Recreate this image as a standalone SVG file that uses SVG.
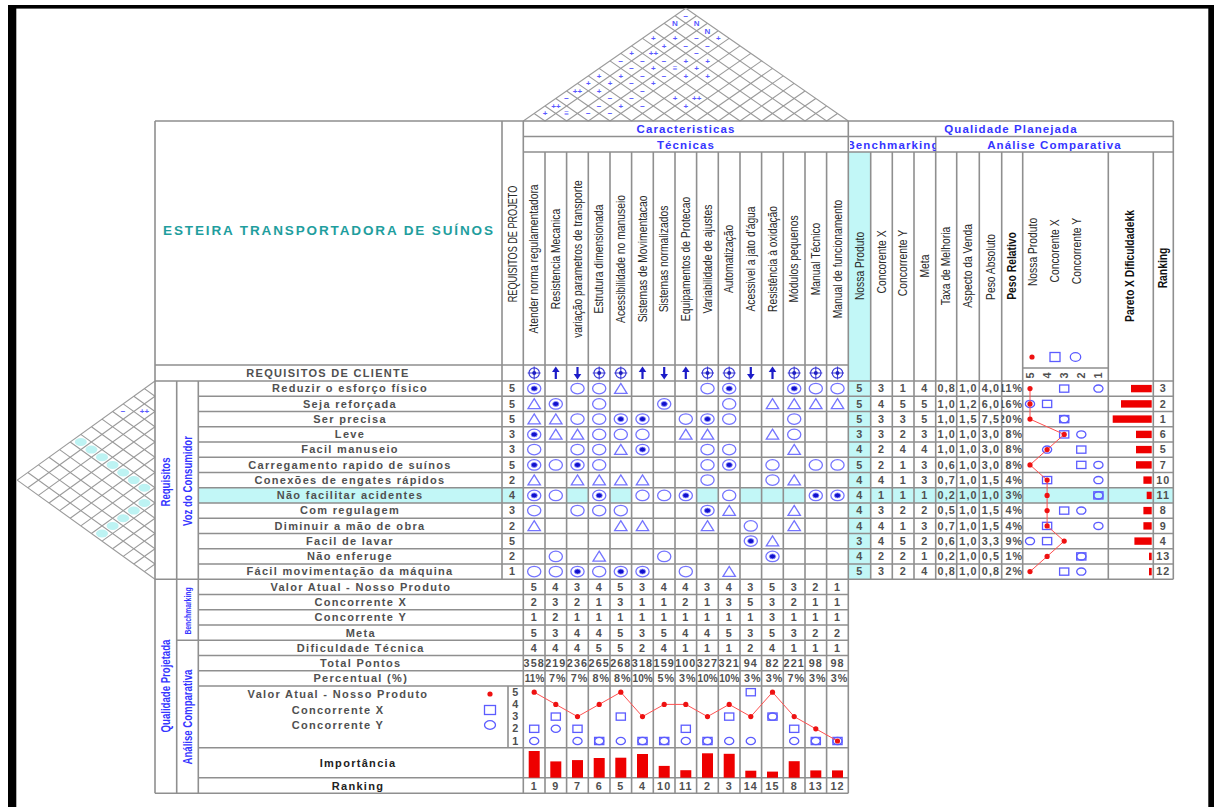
<svg xmlns="http://www.w3.org/2000/svg" width="1214" height="807" viewBox="0 0 1214 807">
<style>
text{font-family:"Liberation Sans",Arial,sans-serif}
.g{stroke:#8f8f8f;stroke-width:1.6;fill:none}
.rg{stroke:#9b9b9b;stroke-width:1.1;fill:none}
.d{font-size:10.8px;font-weight:bold;fill:#505050;letter-spacing:1.1px;text-anchor:middle}
.de{font-size:10.8px;font-weight:bold;fill:#505050;letter-spacing:0.9px;text-anchor:end}
.p3{font-size:10px;letter-spacing:0px}
.n{font-size:11px;font-weight:bold;fill:#505050;letter-spacing:1.3px;text-anchor:middle}
.h{font-size:12px;fill:#2a2a2a;text-anchor:middle}
.hb{font-size:12px;font-weight:bold;fill:#111;text-anchor:middle}
.bl{font-size:11.5px;font-weight:bold;fill:#3535ff;letter-spacing:1.1px;text-anchor:middle}
.bv{font-size:12px;font-weight:bold;fill:#3535ff;text-anchor:middle}
.rf{font-size:8px;font-weight:bold;fill:#5a5aff;text-anchor:middle}
.sym{fill:#fff;stroke:#7474ff;stroke-width:1.3}
.cy{fill:#c2f7f7}
.bar{fill:#ee0000}
.rl{fill:none;stroke:#ff5050;stroke-width:1}
</style>
<defs>
<g id="s9"><ellipse rx="6.6" ry="5.3" class="sym"/><ellipse rx="3.1" ry="2.5" fill="#1212cc" stroke="#8a8aff" stroke-width="0.8"/></g>
<g id="s3"><ellipse rx="6.6" ry="5.3" class="sym"/></g>
<g id="s1"><path d="M0,-5.2L6.2,4.8H-6.2Z" class="sym"/></g>
<g id="dt"><circle r="5.2" fill="#fff" stroke="#3b3bd6" stroke-width="1.2"/><path d="M-6.5,0H6.5M0,-6.5V6.5" stroke="#3b3bd6" stroke-width="1.1"/><circle r="2" fill="#2020c0"/></g>
<g id="du"><path d="M0,6V-2" stroke="#1c1cc8" stroke-width="2.2"/><path d="M-3.8,-1L0,-6.5L3.8,-1Z" fill="#1c1cc8"/></g>
<g id="dd"><path d="M0,-6V2" stroke="#1c1cc8" stroke-width="2.2"/><path d="M-3.8,1L0,6.5L3.8,1Z" fill="#1c1cc8"/></g>
<circle id="cd" r="2.6" fill="#ee1111"/>
<rect id="cs" x="-4.6" y="-3.6" width="9.2" height="7.2" fill="none" stroke="#5c5cff" stroke-width="1.3"/>
<ellipse id="cc" rx="4.6" ry="3.6" fill="none" stroke="#5c5cff" stroke-width="1.3"/>
<clipPath id="cb"><rect x="850" y="136.5" width="85.7" height="15.5"/></clipPath>
<clipPath id="k1"><rect x="935.7" y="381" width="21" height="199"/></clipPath>
<clipPath id="k2"><rect x="956.7" y="381" width="22.6" height="199"/></clipPath>
<clipPath id="k3"><rect x="979.3" y="381" width="22.4" height="199"/></clipPath>
<clipPath id="k4"><rect x="1001.7" y="381" width="21" height="199"/></clipPath>
<clipPath id="t0"><rect x="523.3" y="655" width="21.7" height="32"/></clipPath>
<clipPath id="t1"><rect x="545" y="655" width="21.6" height="32"/></clipPath>
<clipPath id="t2"><rect x="566.6" y="655" width="21.7" height="32"/></clipPath>
<clipPath id="t3"><rect x="588.3" y="655" width="21.7" height="32"/></clipPath>
<clipPath id="t4"><rect x="610" y="655" width="21.6" height="32"/></clipPath>
<clipPath id="t5"><rect x="631.6" y="655" width="21.7" height="32"/></clipPath>
<clipPath id="t6"><rect x="653.3" y="655" width="21.7" height="32"/></clipPath>
<clipPath id="t7"><rect x="675" y="655" width="21.6" height="32"/></clipPath>
<clipPath id="t8"><rect x="696.6" y="655" width="21.7" height="32"/></clipPath>
<clipPath id="t9"><rect x="718.3" y="655" width="21.7" height="32"/></clipPath>
<clipPath id="t10"><rect x="740" y="655" width="21.6" height="32"/></clipPath>
<clipPath id="t11"><rect x="761.6" y="655" width="21.7" height="32"/></clipPath>
<clipPath id="t12"><rect x="783.3" y="655" width="21.7" height="32"/></clipPath>
<clipPath id="t13"><rect x="805" y="655" width="21.6" height="32"/></clipPath>
<clipPath id="t14"><rect x="826.6" y="655" width="21.7" height="32"/></clipPath>
</defs>
<rect width="1214" height="807" fill="#fff"/>
<g id="frame" fill="#000">
<rect x="8" y="5" width="1206" height="3.6"/>
<rect x="8" y="5" width="8.3" height="802"/>
<rect x="1208.3" y="5" width="5.7" height="802"/>
</g>
<g id="fills">
<rect class="cy" x="848.3" y="152" width="22.4" height="427.25"/>
<rect class="cy" x="198.3" y="487.75" width="975" height="15.25"/>
<g fill="#fff">
<rect x="523.3" y="487.75" width="21.7" height="15.25"/><rect x="545" y="487.75" width="21.6" height="15.25"/><rect x="588.3" y="487.75" width="21.7" height="15.25"/><rect x="631.6" y="487.75" width="21.7" height="15.25"/><rect x="653.3" y="487.75" width="21.7" height="15.25"/><rect x="675" y="487.75" width="21.6" height="15.25"/><rect x="718.3" y="487.75" width="21.7" height="15.25"/><rect x="805" y="487.75" width="21.6" height="15.25"/><rect x="826.6" y="487.75" width="21.7" height="15.25"/>
</g>
</g>
<g id="roof">
<path class="rg" d="M523.3,121L685.8,8.3M545,121L696.6,15.8M566.6,121L707.5,23.3M588.3,121L718.3,30.8M610,121L729.1,38.4M631.6,121L740,45.9M653.3,121L750.8,53.4M675,121L761.6,60.9M696.6,121L772.5,68.4M718.3,121L783.3,75.9M740,121L794.1,83.4M761.6,121L805,91M783.3,121L815.8,98.5M805,121L826.6,106M826.6,121L837.5,113.5M545,121L534.1,113.5M566.6,121L545,106M588.3,121L555.8,98.5M610,121L566.6,91M631.6,121L577.5,83.4M653.3,121L588.3,75.9M675,121L599.1,68.4M696.6,121L610,60.9M718.3,121L620.8,53.4M740,121L631.6,45.9M761.6,121L642.5,38.4M783.3,121L653.3,30.8M805,121L664.1,23.3M826.6,121L675,15.8M848.3,121L685.8,8.3"/>
<g class="rf">
<text x="685.9" y="18.6">−</text>
<text x="675" y="26.1">N</text><text x="696.7" y="26.1">N</text>
<text x="707.5" y="33.6">N</text>
<text x="653.4" y="41.2">+</text><text x="675" y="41.2">+</text><text x="696.7" y="41.2">−</text><text x="718.4" y="41.2">+</text>
<text x="664.2" y="48.7">+</text><text x="685.9" y="48.7">−</text><text x="707.5" y="48.7">−</text>
<text x="631.7" y="56.2">+</text><text x="653.4" y="56.2">++</text><text x="696.7" y="56.2">−</text>
<text x="620.9" y="63.7">−</text><text x="642.5" y="63.7">−</text><text x="664.2" y="63.7">−</text><text x="685.9" y="63.7">+</text><text x="707.5" y="63.7">+</text>
<text x="631.7" y="71.2">−</text><text x="653.4" y="71.2">+</text><text x="675" y="71.2">≡</text><text x="696.7" y="71.2">+</text>
<text x="599.2" y="78.7">+</text><text x="620.9" y="78.7">+</text><text x="642.5" y="78.7">−</text><text x="664.2" y="78.7">−</text><text x="685.9" y="78.7">+</text><text x="707.5" y="78.7">+</text>
<text x="588.4" y="86.2">+</text><text x="610" y="86.2">+</text><text x="631.7" y="86.2">−</text><text x="653.4" y="86.2">+</text>
<text x="577.5" y="93.8">++</text><text x="599.2" y="93.8">+</text><text x="642.5" y="93.8">−</text>
<text x="566.7" y="101.3">−</text><text x="610" y="101.3">−</text><text x="631.7" y="101.3">−</text><text x="675" y="101.3">+</text><text x="696.7" y="101.3">++</text>
<text x="555.9" y="108.8">++</text><text x="599.2" y="108.8">−</text><text x="620.9" y="108.8">+</text><text x="642.5" y="108.8">−</text><text x="685.9" y="108.8">+</text>
<text x="545" y="116.3">+</text><text x="566.7" y="116.3">≡</text><text x="588.4" y="116.3">−</text><text x="610" y="116.3">−</text>
</g>
</g>
<g id="roof-left">
<g fill="#bdf3f3">
<ellipse cx="80.8" cy="442" rx="6" ry="4"/><ellipse cx="91.4" cy="449.6" rx="6" ry="4"/><ellipse cx="102" cy="457.2" rx="6" ry="4"/><ellipse cx="112.6" cy="464.9" rx="6" ry="4"/><ellipse cx="123.2" cy="472.5" rx="6" ry="4"/><ellipse cx="133.8" cy="480.1" rx="6" ry="4"/><ellipse cx="144.4" cy="487.75" rx="6" ry="4"/>
<ellipse cx="144.4" cy="503" rx="6" ry="4"/><ellipse cx="133.8" cy="510.6" rx="6" ry="4"/><ellipse cx="123.2" cy="518.25" rx="6" ry="4"/><ellipse cx="112.6" cy="525.9" rx="6" ry="4"/><ellipse cx="102" cy="533.5" rx="6" ry="4"/>
</g>
<path class="rg" d="M155,381L17.2,480.1M155,396.25L27.8,487.75M155,411.5L38.4,495.4M155,426.75L49,503M155,442L59.6,510.6M155,457.25L70.2,518.25M155,472.5L80.8,525.9M155,487.75L91.4,533.5M155,503L102,541.1M155,518.25L112.6,548.75M155,533.5L123.2,556.4M155,548.75L133.8,564M155,564L144.4,571.6M155,396.25L144.4,388.6M155,411.5L133.8,396.25M155,426.75L123.2,403.9M155,442L112.6,411.5M155,457.25L102,419.1M155,472.5L91.4,426.75M155,487.75L80.8,434.4M155,503L70.2,442M155,518.25L59.6,449.6M155,533.5L49,457.25M155,548.75L38.4,464.9M155,564L27.8,472.5M155,579.25L17.2,480.1"/>
<text class="rf" x="144.4" y="414.3">++</text>
<text class="rf" x="123.2" y="414.3">−</text>
</g>
<g id="grid">
<path class="g" d="M155,121H1173.3M523.3,136.5H1173.3M523.3,152H1173.3M155,365H848.3M1022.7,368H1108.3M155,381H1173.3M198.3,396.25H1173.3M198.3,411.5H1173.3M198.3,426.75H1173.3M198.3,442H1173.3M198.3,457.25H1173.3M198.3,472.5H1173.3M198.3,487.75H1173.3M198.3,503H1173.3M198.3,518.25H1173.3M198.3,533.5H1173.3M198.3,548.75H1173.3M198.3,564H1173.3M155,579.25H1173.3M198.3,594.5H848.3M198.3,609.75H848.3M198.3,625H848.3M176.7,640.25H848.3M198.3,655.5H848.3M198.3,670.75H848.3M198.3,686H848.3M198.3,747.7H848.3M198.3,777.7H848.3M155,793.3H848.3
M155,121V793.3M176.7,381V793.3M198.3,381V793.3M502,121V579.25M508,686V747.7M523.3,121V793.3M545,152V793.3M566.6,152V793.3M588.3,152V793.3M610,152V793.3M631.6,152V793.3M653.3,152V793.3M675,152V793.3M696.6,152V793.3M718.3,152V793.3M740,152V793.3M761.6,152V793.3M783.3,152V793.3M805,152V793.3M826.6,152V793.3M848.3,121V793.3M870.7,152V579.25M892.3,152V579.25M914,152V579.25M935.7,136.5V579.25M956.7,152V579.25M979.3,152V579.25M1001.7,152V579.25M1022.7,152V579.25M1108.3,152V579.25M1153.3,152V579.25M1173.3,121V579.25"/>
</g>
<g id="headers">
<text x="328" y="235" font-size="13.5" font-weight="bold" fill="#1f9e9e" text-anchor="middle" textLength="330" lengthAdjust="spacing">ESTEIRA TRANSPORTADORA DE SUÍNOS</text>
<text class="bl" x="686" y="133">Caracteristicas</text>
<text class="bl" x="686" y="148.5">Técnicas</text>
<text class="bl" x="1011" y="133">Qualidade Planejada</text>
<text class="bl" x="893" y="148.5" clip-path="url(#cb)">Benchmarking</text>
<text class="bl" x="1054.5" y="148.5">Análise Comparativa</text>
<text class="h" font-size="13" transform="translate(517.2,244) rotate(-90) scale(0.76,1)">REQUISITOS DE PROJETO</text>
<g class="h">
<text transform="translate(538.2,259) rotate(-90) scale(0.86,1)">Atender norma regulamentadora</text>
<text transform="translate(559.8,259) rotate(-90) scale(0.86,1)">Resistencia Mecanica</text>
<text transform="translate(581.5,259) rotate(-90) scale(0.86,1)">variação parametros de transporte</text>
<text transform="translate(603.2,259) rotate(-90) scale(0.86,1)">Estrutura dimensionada</text>
<text transform="translate(624.8,259) rotate(-90) scale(0.86,1)">Acessibilidade no manuseio</text>
<text transform="translate(646.5,259) rotate(-90) scale(0.86,1)">Sistemas de Movimentacao</text>
<text transform="translate(668.2,259) rotate(-90) scale(0.86,1)">Sistemas normalizados</text>
<text transform="translate(689.8,259) rotate(-90) scale(0.86,1)">Equipamentos de Protecao</text>
<text transform="translate(711.5,259) rotate(-90) scale(0.86,1)">Variabilidade de ajustes</text>
<text transform="translate(733.2,259) rotate(-90) scale(0.86,1)">Automatização</text>
<text transform="translate(754.8,259) rotate(-90) scale(0.86,1)">Acessivel a jato d'água</text>
<text transform="translate(776.5,259) rotate(-90) scale(0.86,1)">Resistência à oxidação</text>
<text transform="translate(798.2,259) rotate(-90) scale(0.86,1)">Módulos pequenos</text>
<text transform="translate(819.8,259) rotate(-90) scale(0.86,1)">Manual Técnico</text>
<text transform="translate(841.5,259) rotate(-90) scale(0.86,1)">Manual de funcionamento</text>
<text transform="translate(863.8,266) rotate(-90) scale(0.86,1)">Nossa Produto</text>
<text transform="translate(885.5,262) rotate(-90) scale(0.86,1)">Concorente X</text>
<text transform="translate(907.2,263) rotate(-90) scale(0.86,1)">Concorrente Y</text>
<text transform="translate(928.8,266) rotate(-90) scale(0.86,1)">Meta</text>
<text transform="translate(950.2,266) rotate(-90) scale(0.86,1)">Taxa de Melhoria</text>
<text transform="translate(972,266) rotate(-90) scale(0.86,1)">Aspecto da Venda</text>
<text transform="translate(994.5,267) rotate(-90) scale(0.86,1)">Peso Absoluto</text>
<text transform="translate(1036.5,252) rotate(-90) scale(0.86,1)">Nossa Produto</text>
<text transform="translate(1059,251) rotate(-90) scale(0.86,1)">Concorente X</text>
<text transform="translate(1080.7,251) rotate(-90) scale(0.86,1)">Concorrente Y</text>
</g>
<g class="hb">
<text transform="translate(1016.2,266) rotate(-90) scale(0.86,1)">Peso Relativo</text>
<text transform="translate(1133.5,266) rotate(-90) scale(0.86,1)">Pareto X Dificuldadekk</text>
<text transform="translate(1166.5,268) rotate(-90) scale(0.86,1)">Ranking</text>
</g>
<use href="#cd" x="1032" y="357"/><rect x="1050" y="352.5" width="10" height="9" fill="none" stroke="#5c5cff" stroke-width="1.3"/><ellipse cx="1075.5" cy="357" rx="5.2" ry="4.3" fill="none" stroke="#5c5cff" stroke-width="1.3"/>
<g class="d" font-size="9.5px">
<text transform="translate(1033.5,375) rotate(-90)">5</text>
<text transform="translate(1050.6,375) rotate(-90)">4</text>
<text transform="translate(1067.7,375) rotate(-90)">3</text>
<text transform="translate(1084.8,375) rotate(-90)">2</text>
<text transform="translate(1101.9,375) rotate(-90)">1</text>
</g>
<text class="n" x="328" y="376.8" letter-spacing="1.2">REQUISITOS DE CLIENTE</text>
<g class="bv">
<text transform="translate(170.3,482) rotate(-90) scale(0.8,1)">Requisitos</text>
<text transform="translate(191.8,481) rotate(-90) scale(0.8,1)">Voz do Consumidor</text>
<text transform="translate(170.3,686) rotate(-90) scale(0.8,1)">Qualidade Projetada</text>
<text font-size="8.5" transform="translate(190.5,611) rotate(-90) scale(0.8,1)">Benchmarking</text>
<text transform="translate(191.8,717) rotate(-90) scale(0.8,1)">Análise Comparativa</text>
</g>
</g>
<g id="directions">
<use href="#dt" x="534.2" y="373"/><use href="#du" x="555.8" y="373"/><use href="#dd" x="577.5" y="373"/><use href="#dt" x="599.2" y="373"/><use href="#dt" x="620.8" y="373"/><use href="#du" x="642.5" y="373"/><use href="#dd" x="664.2" y="373"/><use href="#du" x="685.8" y="373"/><use href="#dt" x="707.5" y="373"/><use href="#dt" x="729.2" y="373"/><use href="#dd" x="750.8" y="373"/><use href="#du" x="772.5" y="373"/><use href="#dt" x="794.2" y="373"/><use href="#dt" x="815.8" y="373"/><use href="#dt" x="837.5" y="373"/>
</g>
<g id="requirements" class="n">
<text x="350" y="392.4">Reduzir o esforço físico</text>
<text x="350" y="407.7">Seja reforçada</text>
<text x="350" y="422.9">Ser precisa</text>
<text x="350" y="438.2">Leve</text>
<text x="350" y="453.4">Facil manuseio</text>
<text x="350" y="468.7">Carregamento rapido de suínos</text>
<text x="350" y="483.9">Conexões de engates rápidos</text>
<text x="350" y="499.2">Não facilitar acidentes</text>
<text x="350" y="514.4">Com regulagem</text>
<text x="350" y="529.7">Diminuir a mão de obra</text>
<text x="350" y="544.9">Facil de lavar</text>
<text x="350" y="560.2">Não enferuge</text>
<text x="350" y="575.4">Fácil movimentação da máquina</text>
</g>
<g id="matrix">
<use href="#s9" x="534.2" y="388.6"/><use href="#s3" x="577.5" y="388.6"/><use href="#s3" x="599.2" y="388.6"/><use href="#s1" x="620.8" y="388.6"/><use href="#s3" x="707.5" y="388.6"/><use href="#s9" x="729.2" y="388.6"/><use href="#s9" x="794.2" y="388.6"/><use href="#s3" x="815.8" y="388.6"/><use href="#s3" x="837.5" y="388.6"/>
<use href="#s1" x="534.2" y="403.9"/><use href="#s9" x="555.8" y="403.9"/><use href="#s3" x="599.2" y="403.9"/><use href="#s9" x="664.2" y="403.9"/><use href="#s3" x="729.2" y="403.9"/><use href="#s1" x="772.5" y="403.9"/><use href="#s1" x="794.2" y="403.9"/><use href="#s1" x="815.8" y="403.9"/><use href="#s1" x="837.5" y="403.9"/>
<use href="#s1" x="534.2" y="419.1"/><use href="#s1" x="555.8" y="419.1"/><use href="#s3" x="577.5" y="419.1"/><use href="#s3" x="599.2" y="419.1"/><use href="#s9" x="620.8" y="419.1"/><use href="#s9" x="642.5" y="419.1"/><use href="#s3" x="685.8" y="419.1"/><use href="#s9" x="707.5" y="419.1"/><use href="#s3" x="729.2" y="419.1"/><use href="#s3" x="794.2" y="419.1"/>
<use href="#s9" x="534.2" y="434.4"/><use href="#s1" x="555.8" y="434.4"/><use href="#s1" x="577.5" y="434.4"/><use href="#s3" x="599.2" y="434.4"/><use href="#s3" x="620.8" y="434.4"/><use href="#s3" x="642.5" y="434.4"/><use href="#s1" x="685.8" y="434.4"/><use href="#s1" x="707.5" y="434.4"/><use href="#s1" x="772.5" y="434.4"/><use href="#s3" x="794.2" y="434.4"/>
<use href="#s3" x="534.2" y="449.6"/><use href="#s3" x="577.5" y="449.6"/><use href="#s3" x="599.2" y="449.6"/><use href="#s1" x="620.8" y="449.6"/><use href="#s9" x="642.5" y="449.6"/><use href="#s3" x="707.5" y="449.6"/><use href="#s3" x="729.2" y="449.6"/><use href="#s1" x="794.2" y="449.6"/>
<use href="#s9" x="534.2" y="464.9"/><use href="#s3" x="555.8" y="464.9"/><use href="#s9" x="577.5" y="464.9"/><use href="#s3" x="599.2" y="464.9"/><use href="#s3" x="707.5" y="464.9"/><use href="#s9" x="729.2" y="464.9"/><use href="#s3" x="772.5" y="464.9"/><use href="#s3" x="815.8" y="464.9"/><use href="#s3" x="837.5" y="464.9"/>
<use href="#s1" x="534.2" y="480.1"/><use href="#s1" x="577.5" y="480.1"/><use href="#s1" x="599.2" y="480.1"/><use href="#s1" x="620.8" y="480.1"/><use href="#s1" x="642.5" y="480.1"/><use href="#s3" x="707.5" y="480.1"/><use href="#s3" x="772.5" y="480.1"/><use href="#s1" x="794.2" y="480.1"/>
<use href="#s9" x="534.2" y="495.4"/><use href="#s3" x="555.8" y="495.4"/><use href="#s9" x="599.2" y="495.4"/><use href="#s3" x="642.5" y="495.4"/><use href="#s3" x="664.2" y="495.4"/><use href="#s9" x="685.8" y="495.4"/><use href="#s3" x="729.2" y="495.4"/><use href="#s9" x="815.8" y="495.4"/><use href="#s9" x="837.5" y="495.4"/>
<use href="#s3" x="534.2" y="510.6"/><use href="#s3" x="577.5" y="510.6"/><use href="#s3" x="599.2" y="510.6"/><use href="#s3" x="620.8" y="510.6"/><use href="#s9" x="707.5" y="510.6"/><use href="#s1" x="729.2" y="510.6"/><use href="#s1" x="794.2" y="510.6"/>
<use href="#s1" x="534.2" y="525.9"/><use href="#s1" x="620.8" y="525.9"/><use href="#s1" x="642.5" y="525.9"/><use href="#s1" x="707.5" y="525.9"/><use href="#s3" x="750.8" y="525.9"/><use href="#s1" x="794.2" y="525.9"/>
<use href="#s9" x="750.8" y="541.1"/><use href="#s1" x="772.5" y="541.1"/>
<use href="#s3" x="555.8" y="556.4"/><use href="#s1" x="599.2" y="556.4"/><use href="#s3" x="664.2" y="556.4"/><use href="#s9" x="772.5" y="556.4"/>
<use href="#s3" x="534.2" y="571.6"/><use href="#s3" x="555.8" y="571.6"/><use href="#s9" x="577.5" y="571.6"/><use href="#s3" x="599.2" y="571.6"/><use href="#s9" x="620.8" y="571.6"/><use href="#s9" x="642.5" y="571.6"/><use href="#s3" x="685.8" y="571.6"/><use href="#s1" x="729.2" y="571.6"/>
</g>
<g id="right-values" class="d">
<text y="392.4"><tspan x="512.5">5</tspan><tspan x="859.8">5</tspan><tspan x="881.5">3</tspan><tspan x="903.2">1</tspan><tspan x="924.8">4</tspan><tspan x="1163.3">3</tspan></text>
<text y="407.7"><tspan x="512.5">5</tspan><tspan x="859.8">5</tspan><tspan x="881.5">4</tspan><tspan x="903.2">5</tspan><tspan x="924.8">5</tspan><tspan x="1163.3">2</tspan></text>
<text y="422.9"><tspan x="512.5">5</tspan><tspan x="859.8">5</tspan><tspan x="881.5">3</tspan><tspan x="903.2">3</tspan><tspan x="924.8">5</tspan><tspan x="1163.3">1</tspan></text>
<text y="438.2"><tspan x="512.5">3</tspan><tspan x="859.8">3</tspan><tspan x="881.5">3</tspan><tspan x="903.2">2</tspan><tspan x="924.8">3</tspan><tspan x="1163.3">6</tspan></text>
<text y="453.4"><tspan x="512.5">3</tspan><tspan x="859.8">4</tspan><tspan x="881.5">2</tspan><tspan x="903.2">4</tspan><tspan x="924.8">4</tspan><tspan x="1163.3">5</tspan></text>
<text y="468.7"><tspan x="512.5">5</tspan><tspan x="859.8">5</tspan><tspan x="881.5">2</tspan><tspan x="903.2">1</tspan><tspan x="924.8">3</tspan><tspan x="1163.3">7</tspan></text>
<text y="483.9"><tspan x="512.5">2</tspan><tspan x="859.8">4</tspan><tspan x="881.5">4</tspan><tspan x="903.2">1</tspan><tspan x="924.8">3</tspan><tspan x="1163.3">10</tspan></text>
<text y="499.2"><tspan x="512.5">4</tspan><tspan x="859.8">4</tspan><tspan x="881.5">1</tspan><tspan x="903.2">1</tspan><tspan x="924.8">1</tspan><tspan x="1163.3">11</tspan></text>
<text y="514.4"><tspan x="512.5">3</tspan><tspan x="859.8">4</tspan><tspan x="881.5">3</tspan><tspan x="903.2">2</tspan><tspan x="924.8">2</tspan><tspan x="1163.3">8</tspan></text>
<text y="529.7"><tspan x="512.5">2</tspan><tspan x="859.8">4</tspan><tspan x="881.5">4</tspan><tspan x="903.2">1</tspan><tspan x="924.8">3</tspan><tspan x="1163.3">9</tspan></text>
<text y="544.9"><tspan x="512.5">5</tspan><tspan x="859.8">3</tspan><tspan x="881.5">4</tspan><tspan x="903.2">5</tspan><tspan x="924.8">2</tspan><tspan x="1163.3">4</tspan></text>
<text y="560.2"><tspan x="512.5">2</tspan><tspan x="859.8">4</tspan><tspan x="881.5">2</tspan><tspan x="903.2">2</tspan><tspan x="924.8">1</tspan><tspan x="1163.3">13</tspan></text>
<text y="575.4"><tspan x="512.5">1</tspan><tspan x="859.8">5</tspan><tspan x="881.5">3</tspan><tspan x="903.2">2</tspan><tspan x="924.8">4</tspan><tspan x="1163.3">12</tspan></text>
<text clip-path="url(#k1)"><tspan x="946.7" y="392.4">0,8</tspan><tspan x="946.7" y="407.7">1,0</tspan><tspan x="946.7" y="422.9">1,0</tspan><tspan x="946.7" y="438.2">1,0</tspan><tspan x="946.7" y="453.4">1,0</tspan><tspan x="946.7" y="468.7">0,6</tspan><tspan x="946.7" y="483.9">0,7</tspan><tspan x="946.7" y="499.2">0,2</tspan><tspan x="946.7" y="514.4">0,5</tspan><tspan x="946.7" y="529.7">0,7</tspan><tspan x="946.7" y="544.9">0,6</tspan><tspan x="946.7" y="560.2">0,2</tspan><tspan x="946.7" y="575.4">0,8</tspan></text>
<text clip-path="url(#k2)"><tspan x="968.5" y="392.4">1,0</tspan><tspan x="968.5" y="407.7">1,2</tspan><tspan x="968.5" y="422.9">1,5</tspan><tspan x="968.5" y="438.2">1,0</tspan><tspan x="968.5" y="453.4">1,0</tspan><tspan x="968.5" y="468.7">1,0</tspan><tspan x="968.5" y="483.9">1,0</tspan><tspan x="968.5" y="499.2">1,0</tspan><tspan x="968.5" y="514.4">1,0</tspan><tspan x="968.5" y="529.7">1,0</tspan><tspan x="968.5" y="544.9">1,0</tspan><tspan x="968.5" y="560.2">1,0</tspan><tspan x="968.5" y="575.4">1,0</tspan></text>
<text clip-path="url(#k3)"><tspan x="991" y="392.4">4,0</tspan><tspan x="991" y="407.7">6,0</tspan><tspan x="991" y="422.9">7,5</tspan><tspan x="991" y="438.2">3,0</tspan><tspan x="991" y="453.4">3,0</tspan><tspan x="991" y="468.7">3,0</tspan><tspan x="991" y="483.9">1,5</tspan><tspan x="991" y="499.2">1,0</tspan><tspan x="991" y="514.4">1,5</tspan><tspan x="991" y="529.7">1,5</tspan><tspan x="991" y="544.9">3,3</tspan><tspan x="991" y="560.2">0,5</tspan><tspan x="991" y="575.4">0,8</tspan></text>
<text class="de" clip-path="url(#k4)"><tspan x="1023" y="392.4">11%</tspan><tspan x="1023" y="407.7">16%</tspan><tspan x="1023" y="422.9">20%</tspan><tspan x="1023" y="438.2">8%</tspan><tspan x="1023" y="453.4">8%</tspan><tspan x="1023" y="468.7">8%</tspan><tspan x="1023" y="483.9">4%</tspan><tspan x="1023" y="499.2">3%</tspan><tspan x="1023" y="514.4">4%</tspan><tspan x="1023" y="529.7">4%</tspan><tspan x="1023" y="544.9">9%</tspan><tspan x="1023" y="560.2">1%</tspan><tspan x="1023" y="575.4">2%</tspan></text>
</g>
<g id="right-chart">
<use href="#cs" x="1064.2" y="388.6"/><use href="#cc" x="1098.4" y="388.6"/>
<use href="#cs" x="1047.1" y="403.9"/><use href="#cc" x="1030" y="403.9"/>
<use href="#cs" x="1064.2" y="419.1"/><use href="#cc" x="1064.2" y="419.1"/>
<use href="#cs" x="1064.2" y="434.4"/><use href="#cc" x="1081.3" y="434.4"/>
<use href="#cs" x="1081.3" y="449.6"/><use href="#cc" x="1047.1" y="449.6"/>
<use href="#cs" x="1081.3" y="464.9"/><use href="#cc" x="1098.4" y="464.9"/>
<use href="#cs" x="1047.1" y="480.1"/><use href="#cc" x="1098.4" y="480.1"/>
<use href="#cs" x="1098.4" y="495.4"/><use href="#cc" x="1098.4" y="495.4"/>
<use href="#cs" x="1064.2" y="510.6"/><use href="#cc" x="1081.3" y="510.6"/>
<use href="#cs" x="1047.1" y="525.9"/><use href="#cc" x="1098.4" y="525.9"/>
<use href="#cs" x="1047.1" y="541.1"/><use href="#cc" x="1030" y="541.1"/>
<use href="#cs" x="1081.3" y="556.4"/><use href="#cc" x="1081.3" y="556.4"/>
<use href="#cs" x="1064.2" y="571.6"/><use href="#cc" x="1081.3" y="571.6"/>
<polyline class="rl" points="1030,388.6 1030,403.9 1030,419.1 1064.2,434.4 1047.1,449.6 1030,464.9 1047.1,480.1 1047.1,495.4 1047.1,510.6 1047.1,525.9 1064.2,541.1 1047.1,556.4 1030,571.6"/>
<use href="#cd" x="1030" y="388.6"/><use href="#cd" x="1030" y="403.9"/><use href="#cd" x="1030" y="419.1"/><use href="#cd" x="1064.2" y="434.4"/><use href="#cd" x="1047.1" y="449.6"/><use href="#cd" x="1030" y="464.9"/><use href="#cd" x="1047.1" y="480.1"/><use href="#cd" x="1047.1" y="495.4"/><use href="#cd" x="1047.1" y="510.6"/><use href="#cd" x="1047.1" y="525.9"/><use href="#cd" x="1064.2" y="541.1"/><use href="#cd" x="1047.1" y="556.4"/><use href="#cd" x="1030" y="571.6"/>
</g>
<g id="pareto" class="bar">
<rect x="1131" y="384.9" width="20.7" height="7.4"/><rect x="1121" y="400.2" width="30.7" height="7.4"/><rect x="1112.7" y="415.4" width="39" height="7.4"/><rect x="1136" y="430.7" width="15.7" height="7.4"/><rect x="1136" y="445.9" width="15.7" height="7.4"/><rect x="1136" y="461.2" width="15.7" height="7.4"/><rect x="1143.4" y="476.4" width="8.3" height="7.4"/><rect x="1146.7" y="491.7" width="5" height="7.4"/><rect x="1143.4" y="506.9" width="8.3" height="7.4"/><rect x="1143.4" y="522.2" width="8.3" height="7.4"/><rect x="1134.4" y="537.4" width="17.3" height="7.4"/><rect x="1149" y="552.7" width="2.7" height="7.4"/><rect x="1149" y="567.9" width="2.7" height="7.4"/>
</g>
<g id="bottom-labels" class="n">
<text x="360.8" y="590.8">Valor Atual - Nosso Produto</text>
<text x="360.8" y="606">Concorrente X</text>
<text x="360.8" y="621.3">Concorrente Y</text>
<text x="360.8" y="636.5">Meta</text>
<text x="360.8" y="651.8">Dificuldade Técnica</text>
<text x="360.8" y="667">Total Pontos</text>
<text x="360.8" y="682.3">Percentual (%)</text>
<text x="338" y="698">Valor Atual - Nosso Produto</text>
<text x="338" y="714">Concorrente X</text>
<text x="338" y="729">Concorrente Y</text>
<text x="358" y="766.5" fill="#222">Importância</text>
<text x="358" y="789.5" fill="#222">Ranking</text>
</g>
<g id="bottom-legend">
<use href="#cd" x="490" y="694"/><rect x="484.5" y="705.5" width="11" height="9" fill="none" stroke="#5c5cff" stroke-width="1.3"/><ellipse cx="490" cy="725" rx="5.5" ry="4.3" fill="none" stroke="#5c5cff" stroke-width="1.3"/>
</g>
<g id="bottom-values" class="d">
<text y="590.8"><tspan x="534.2">5</tspan><tspan x="555.8">4</tspan><tspan x="577.5">3</tspan><tspan x="599.2">4</tspan><tspan x="620.8">5</tspan><tspan x="642.5">3</tspan><tspan x="664.2">4</tspan><tspan x="685.8">4</tspan><tspan x="707.5">3</tspan><tspan x="729.2">4</tspan><tspan x="750.8">3</tspan><tspan x="772.5">5</tspan><tspan x="794.2">3</tspan><tspan x="815.8">2</tspan><tspan x="837.5">1</tspan></text>
<text y="606"><tspan x="534.2">2</tspan><tspan x="555.8">3</tspan><tspan x="577.5">2</tspan><tspan x="599.2">1</tspan><tspan x="620.8">3</tspan><tspan x="642.5">1</tspan><tspan x="664.2">1</tspan><tspan x="685.8">2</tspan><tspan x="707.5">1</tspan><tspan x="729.2">3</tspan><tspan x="750.8">5</tspan><tspan x="772.5">3</tspan><tspan x="794.2">2</tspan><tspan x="815.8">1</tspan><tspan x="837.5">1</tspan></text>
<text y="621.3"><tspan x="534.2">1</tspan><tspan x="555.8">2</tspan><tspan x="577.5">1</tspan><tspan x="599.2">1</tspan><tspan x="620.8">1</tspan><tspan x="642.5">1</tspan><tspan x="664.2">1</tspan><tspan x="685.8">1</tspan><tspan x="707.5">1</tspan><tspan x="729.2">1</tspan><tspan x="750.8">1</tspan><tspan x="772.5">3</tspan><tspan x="794.2">1</tspan><tspan x="815.8">1</tspan><tspan x="837.5">1</tspan></text>
<text y="636.5"><tspan x="534.2">5</tspan><tspan x="555.8">3</tspan><tspan x="577.5">4</tspan><tspan x="599.2">4</tspan><tspan x="620.8">5</tspan><tspan x="642.5">3</tspan><tspan x="664.2">5</tspan><tspan x="685.8">4</tspan><tspan x="707.5">4</tspan><tspan x="729.2">5</tspan><tspan x="750.8">3</tspan><tspan x="772.5">5</tspan><tspan x="794.2">3</tspan><tspan x="815.8">2</tspan><tspan x="837.5">2</tspan></text>
<text y="651.8"><tspan x="534.2">4</tspan><tspan x="555.8">4</tspan><tspan x="577.5">4</tspan><tspan x="599.2">5</tspan><tspan x="620.8">5</tspan><tspan x="642.5">2</tspan><tspan x="664.2">4</tspan><tspan x="685.8">1</tspan><tspan x="707.5">1</tspan><tspan x="729.2">1</tspan><tspan x="750.8">2</tspan><tspan x="772.5">4</tspan><tspan x="794.2">1</tspan><tspan x="815.8">1</tspan><tspan x="837.5">1</tspan></text>
<g clip-path="url(#t0)"><text x="534.2" y="667">358</text><text class="de p3" x="544.3" y="682.3">11%</text></g>
<g clip-path="url(#t1)"><text x="555.8" y="667">219</text><text class="de" x="566.5" y="682.3">7%</text></g>
<g clip-path="url(#t2)"><text x="577.5" y="667">236</text><text class="de" x="588.2" y="682.3">7%</text></g>
<g clip-path="url(#t3)"><text x="599.2" y="667">265</text><text class="de" x="609.9" y="682.3">8%</text></g>
<g clip-path="url(#t4)"><text x="620.8" y="667">268</text><text class="de" x="631.5" y="682.3">8%</text></g>
<g clip-path="url(#t5)"><text x="642.5" y="667">318</text><text class="de p3" x="652.6" y="682.3">10%</text></g>
<g clip-path="url(#t6)"><text x="664.2" y="667">159</text><text class="de" x="674.9" y="682.3">5%</text></g>
<g clip-path="url(#t7)"><text x="685.8" y="667">100</text><text class="de" x="696.5" y="682.3">3%</text></g>
<g clip-path="url(#t8)"><text x="707.5" y="667">327</text><text class="de p3" x="717.6" y="682.3">10%</text></g>
<g clip-path="url(#t9)"><text x="729.2" y="667">321</text><text class="de p3" x="739.3" y="682.3">10%</text></g>
<g clip-path="url(#t10)"><text x="750.8" y="667">94</text><text class="de" x="761.5" y="682.3">3%</text></g>
<g clip-path="url(#t11)"><text x="772.5" y="667">82</text><text class="de" x="783.2" y="682.3">3%</text></g>
<g clip-path="url(#t12)"><text x="794.2" y="667">221</text><text class="de" x="804.9" y="682.3">7%</text></g>
<g clip-path="url(#t13)"><text x="815.8" y="667">98</text><text class="de" x="826.5" y="682.3">3%</text></g>
<g clip-path="url(#t14)"><text x="837.5" y="667">98</text><text class="de" x="848.2" y="682.3">3%</text></g>
<text y="695.7"><tspan x="515.8">5</tspan></text><text y="707.9"><tspan x="515.8">4</tspan></text><text y="720.1"><tspan x="515.8">3</tspan></text><text y="732.3"><tspan x="515.8">2</tspan></text><text y="744.5"><tspan x="515.8">1</tspan></text>
<text y="789.5"><tspan x="534.2">1</tspan><tspan x="555.8">9</tspan><tspan x="577.5">7</tspan><tspan x="599.2">6</tspan><tspan x="620.8">5</tspan><tspan x="642.5">4</tspan><tspan x="664.2">10</tspan><tspan x="685.8">11</tspan><tspan x="707.5">2</tspan><tspan x="729.2">3</tspan><tspan x="750.8">14</tspan><tspan x="772.5">15</tspan><tspan x="794.2">8</tspan><tspan x="815.8">13</tspan><tspan x="837.5">12</tspan></text>
</g>
<g id="bottom-chart">
<use href="#cs" x="534.2" y="728.8"/><use href="#cc" x="534.2" y="741"/>
<use href="#cs" x="555.8" y="716.6"/><use href="#cc" x="555.8" y="728.8"/>
<use href="#cs" x="577.5" y="728.8"/><use href="#cc" x="577.5" y="741"/>
<use href="#cs" x="599.2" y="741"/><use href="#cc" x="599.2" y="741"/>
<use href="#cs" x="620.8" y="716.6"/><use href="#cc" x="620.8" y="741"/>
<use href="#cs" x="642.5" y="741"/><use href="#cc" x="642.5" y="741"/>
<use href="#cs" x="664.2" y="741"/><use href="#cc" x="664.2" y="741"/>
<use href="#cs" x="685.8" y="728.8"/><use href="#cc" x="685.8" y="741"/>
<use href="#cs" x="707.5" y="741"/><use href="#cc" x="707.5" y="741"/>
<use href="#cs" x="729.2" y="716.6"/><use href="#cc" x="729.2" y="741"/>
<use href="#cs" x="750.8" y="692.2"/><use href="#cc" x="750.8" y="741"/>
<use href="#cs" x="772.5" y="716.6"/><use href="#cc" x="772.5" y="716.6"/>
<use href="#cs" x="794.2" y="728.8"/><use href="#cc" x="794.2" y="741"/>
<use href="#cs" x="815.8" y="741"/><use href="#cc" x="815.8" y="741"/>
<use href="#cs" x="837.5" y="741"/><use href="#cc" x="837.5" y="741"/>
<polyline class="rl" points="534.2,692.2 555.8,704.4 577.5,716.6 599.2,704.4 620.8,692.2 642.5,716.6 664.2,704.4 685.8,704.4 707.5,716.6 729.2,704.4 750.8,716.6 772.5,692.2 794.2,716.6 815.8,728.8 837.5,741"/>
<use href="#cd" x="534.2" y="692.2"/><use href="#cd" x="555.8" y="704.4"/><use href="#cd" x="577.5" y="716.6"/><use href="#cd" x="599.2" y="704.4"/><use href="#cd" x="620.8" y="692.2"/><use href="#cd" x="642.5" y="716.6"/><use href="#cd" x="664.2" y="704.4"/><use href="#cd" x="685.8" y="704.4"/><use href="#cd" x="707.5" y="716.6"/><use href="#cd" x="729.2" y="704.4"/><use href="#cd" x="750.8" y="716.6"/><use href="#cd" x="772.5" y="692.2"/><use href="#cd" x="794.2" y="716.6"/><use href="#cd" x="815.8" y="728.8"/><use href="#cd" x="837.5" y="741"/>
</g>
<g id="importance" class="bar">
<rect x="528.7" y="751" width="11" height="26.7"/><rect x="550.3" y="761.4" width="11" height="16.3"/><rect x="572" y="760.1" width="11" height="17.6"/><rect x="593.7" y="758" width="11" height="19.7"/><rect x="615.3" y="757.7" width="11" height="20"/><rect x="637" y="754" width="11" height="23.7"/><rect x="658.7" y="765.9" width="11" height="11.8"/><rect x="680.3" y="770.2" width="11" height="7.5"/><rect x="702" y="753.3" width="11" height="24.4"/><rect x="723.7" y="753.8" width="11" height="23.9"/><rect x="745.3" y="770.7" width="11" height="7"/><rect x="767" y="771.6" width="11" height="6.1"/><rect x="788.7" y="761.2" width="11" height="16.5"/><rect x="810.3" y="770.4" width="11" height="7.3"/><rect x="832" y="770.4" width="11" height="7.3"/>
</g>
</svg>
